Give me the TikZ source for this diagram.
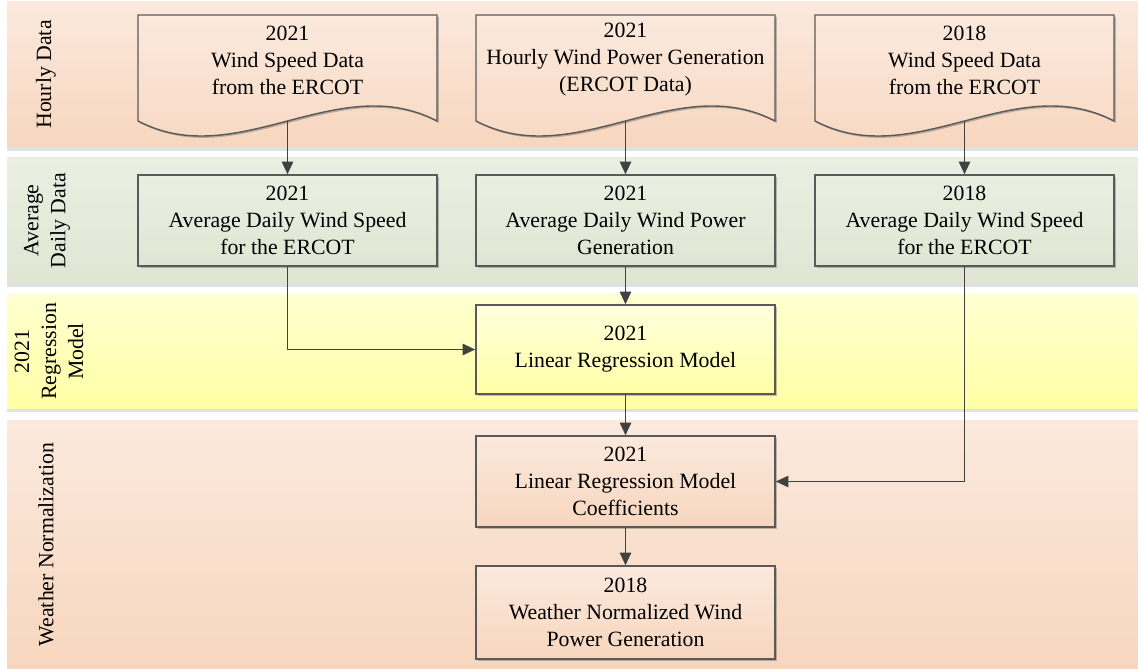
\documentclass[tikz,border=0pt]{standalone}
\usepackage{fontspec}
\setmainfont{Liberation Serif}
\usetikzlibrary{arrows.meta,shadows}
\definecolor{peachT}{RGB}{251,233,221}
\definecolor{peachB}{RGB}{247,214,190}
\definecolor{greenT}{RGB}{235,239,226}
\definecolor{greenB}{RGB}{224,229,211}
\definecolor{yelT}{RGB}{255,255,208}
\definecolor{yelB}{RGB}{255,255,165}
\definecolor{edgec}{RGB}{90,90,90}
\definecolor{arrc}{RGB}{65,65,65}
\definecolor{bandsh}{RGB}{225,225,225}
\begin{document}
\begin{tikzpicture}[x=0.025cm,y=-0.025cm,
  txt/.style={font=\fontsize{15.5}{19.2}\selectfont, align=center, inner sep=0pt},
  shad/.style={drop shadow={shadow xshift=1.3pt, shadow yshift=-1.3pt, opacity=0.35, fill=black!70}},
  boxbase/.style={txt, draw=edgec, line width=1pt, minimum width=7.475cm, shad},
  peachbox/.style={boxbase, top color=peachT, bottom color=peachB},
  greenbox/.style={boxbase, top color=greenT, bottom color=greenB},
  yelbox/.style={boxbase, top color=yelT!70!white, bottom color=yelB},
  docshape/.style={draw=edgec, line width=1pt, top color=peachT, bottom color=peachB, shad},
  band/.style={draw=none},
  conn/.style={draw=arrc, line width=1.4pt, -{Triangle[length=9pt,width=8pt]}},
  blabel/.style={txt, rotate=90}
]
\useasboundingbox (0,0) rectangle (1138,669);
\fill[white] (0,0) rectangle (1138,669);

% bands
\fill[bandsh] (7,5) rectangle (1138,151);
\fill[band, top color=peachT, bottom color=peachB] (7,2) rectangle (1138,147);
\fill[bandsh] (7,161) rectangle (1138,287);
\fill[band, top color=greenT, bottom color=greenB] (7,158) rectangle (1138,283);
\fill[bandsh] (7,298) rectangle (1138,412);
\fill[band, top color=yelT, bottom color=yelB] (7,295) rectangle (1138,408);
\fill[band, top color=peachT, bottom color=peachB] (7,420) rectangle (1138,669);

% band labels
\node[blabel] (l1) at (46,74.5) {Hourly Data};
\node[blabel] (l2) at (47,220.5) {Average\\Daily Data};
\node[blabel] (l3) at (49,351.5) {2021\\Regression\\Model};
\node[blabel] (l4) at (46,544.5) {Weather Normalization};

% document shapes
\path[docshape] (138,15) -- (437,15) -- (437,121) .. controls (337.3,69) and (237.7,173) .. (138,121) -- cycle;
\path[docshape] (476,15) -- (775,15) -- (775,121) .. controls (675.3,69) and (575.7,173) .. (476,121) -- cycle;
\path[docshape] (815,15) -- (1114,15) -- (1114,121) .. controls (1014.3,69) and (914.7,173) .. (815,121) -- cycle;
\node[txt] (d1) at (287.5,60) {2021\\Wind Speed Data\\from the ERCOT};
\node[txt] (d2) at (625.5,60) {2021\\Hourly Wind Power Generation\\(ERCOT Data)};
\node[txt] (d3) at (964.5,60) {2018\\Wind Speed Data\\from the ERCOT};
\coordinate (d1b) at (287.5,121);
\coordinate (d2b) at (625.5,121);
\coordinate (d3b) at (964.5,121);

% boxes
\node[greenbox, minimum height=2.275cm] (a1) at (287.5,220.5) {2021\\Average Daily Wind Speed\\for the ERCOT};
\node[greenbox, minimum height=2.275cm] (a2) at (625.5,220.5) {2021\\Average Daily Wind Power\\Generation};
\node[greenbox, minimum height=2.275cm] (a3) at (964.5,220.5) {2018\\Average Daily Wind Speed\\for the ERCOT};
\node[yelbox, minimum height=2.225cm] (r) at (625.5,349.5) {2021\\Linear Regression Model};
\node[peachbox, minimum height=2.275cm] (c) at (625.5,481.5) {2021\\Linear Regression Model\\Coefficients};
\node[peachbox, minimum height=2.325cm] (w) at (625.5,612.5) {2018\\Weather Normalized Wind\\Power Generation};

% connectors
\draw[conn] (d1b) -- (a1.north);
\draw[conn] (d2b) -- (a2.north);
\draw[conn] (d3b) -- (a3.north);
\draw[conn] (a1.south) |- (r.west);
\draw[conn] (a2.south) -- (r.north);
\draw[conn] (r.south) -- (c.north);
\draw[conn] (a3.south) |- (c.east);
\draw[conn] (c.south) -- (w.north);
\end{tikzpicture}
\end{document}
